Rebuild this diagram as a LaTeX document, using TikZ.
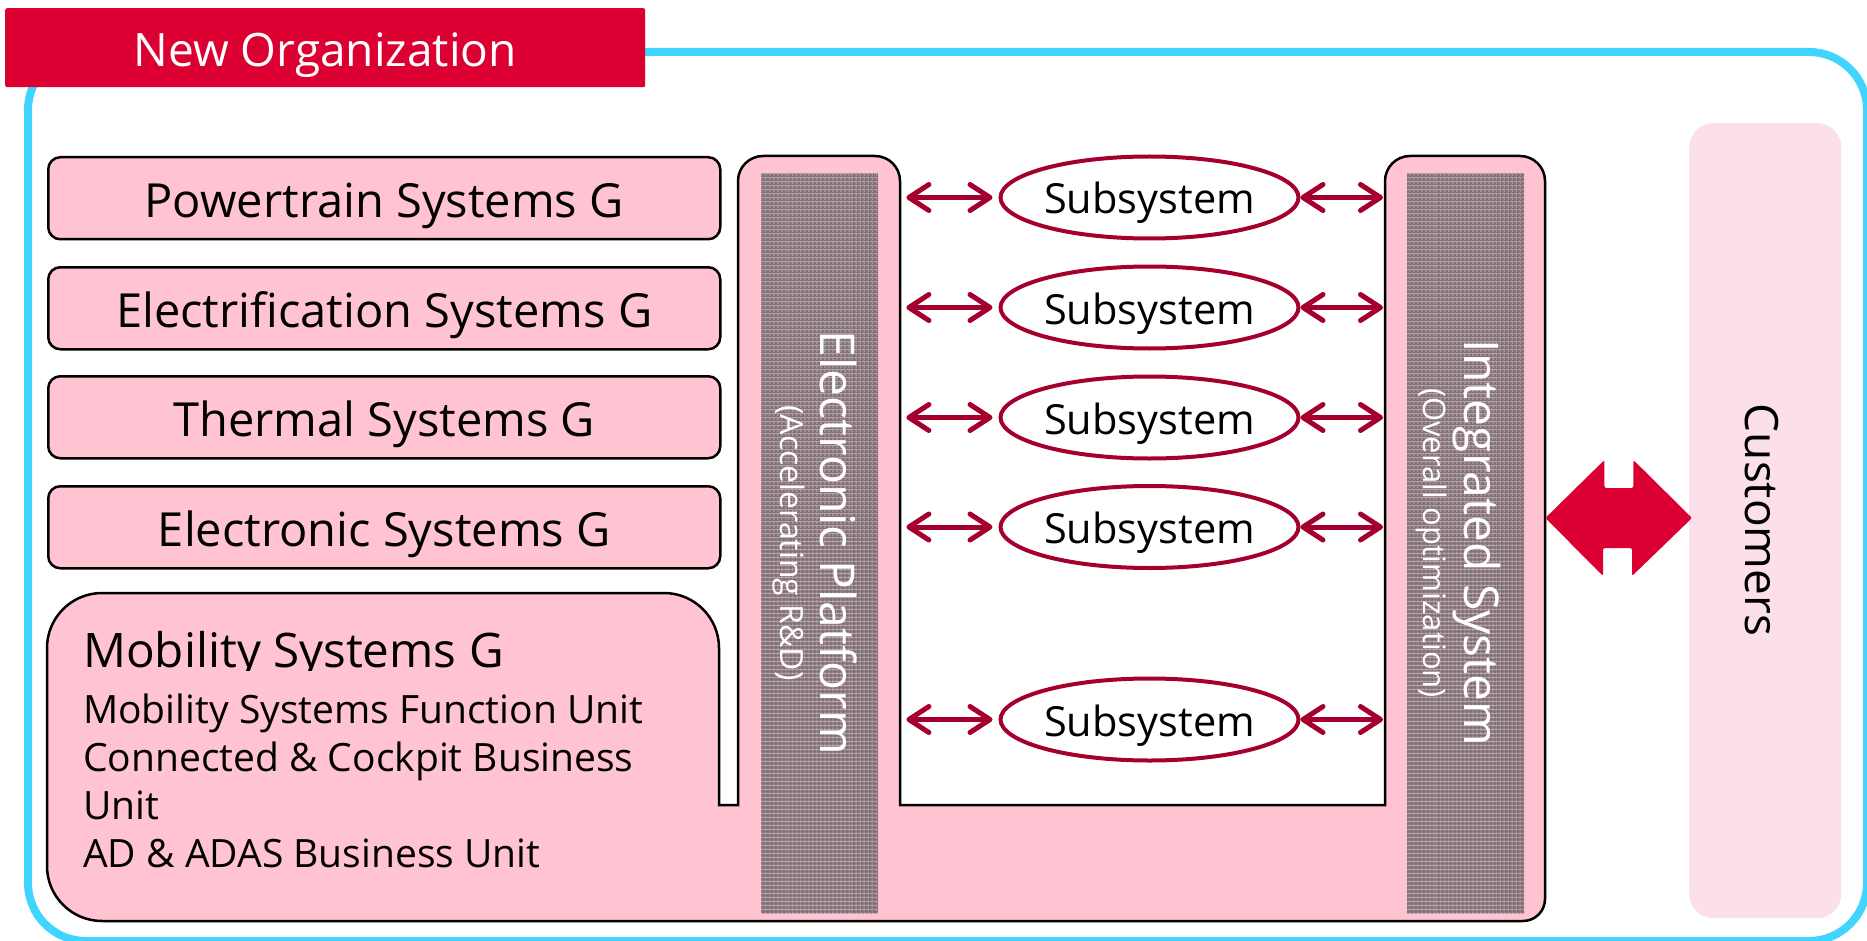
\documentclass[tikz,border=0pt]{standalone}
\usepackage{fontspec}
\setmainfont{Open Sans}
\usetikzlibrary{arrows.meta,shapes.geometric,calc,patterns.meta}
\definecolor{pinkc}{RGB}{255,195,210}
\definecolor{custpink}{RGB}{251,223,234}
\definecolor{dred}{RGB}{165,0,45}
\definecolor{tred}{RGB}{220,0,50}
\definecolor{cyanc}{RGB}{64,212,255}
\definecolor{grayc}{RGB}{128,114,119}
\definecolor{gridc}{RGB}{190,160,170}
\begin{document}
\begin{tikzpicture}[x=1pt,y=-1pt,
  sysbox/.style={draw=black,line width=2.5pt,fill=pinkc,rounded corners=12pt,
    minimum width=672pt,minimum height=82pt,inner sep=0pt,anchor=north west,
    text height=40pt,text depth=2pt,font=\fontsize{47}{56}\selectfont},
  subsys/.style={ellipse,draw=dred,line width=4pt,fill=white,minimum width=294pt,
    minimum height=82pt,inner sep=0pt,text height=35pt,text depth=2pt,
    font=\fontsize{41.5}{48}\selectfont},
  link/.style={draw=dred,line width=5pt,>={Straight Barb[round,length=20pt,width=26pt]},<->},
  vtext/.style={rotate=-90,anchor=base,text=white,inner sep=0pt},
  mobtext/.style={anchor=base west,inner sep=0pt,font=\fontsize{39}{48}\selectfont},
  column/.style={inner sep=0pt,minimum height=765pt,anchor=north west},
  graycol/.style={fill=grayc},
  gridlines/.style={pattern={Lines[angle=0,distance=4pt,line width=0.9pt]},pattern color=gridc}
]
\useasboundingbox (0,0) rectangle (1867,941);

% outer frame
\node[draw=cyanc,line width=8pt,rounded corners=58pt,minimum width=1839pt,
  minimum height=889pt,anchor=north west,inner sep=0pt] (frame) at (24,48) {};

% title
\node[fill=tred,rounded corners=2pt,minimum width=640pt,minimum height=79pt,
  anchor=north west,inner sep=0pt,text=white,text height=39pt,text depth=2pt,
  font=\fontsize{46}{50}\selectfont] (title) at (5,8) {New Organization};

% left group boxes
\node[sysbox] (pt) at (47,156) {Powertrain Systems G};
\node[sysbox] (el) at (47,266) {Electrification Systems G};
\node[sysbox] (th) at (47,375) {Thermal Systems G};
\node[sysbox] (es) at (47,485) {Electronic Systems G};

% combined shape: mobility + platform columns
\draw[black,line width=2.5pt,fill=pinkc]
  (300,921) [rounded corners=55pt] -- (47,921) -- (47,593) -- (719,593)
  [sharp corners] -- (719,805) -- (738,805)
  [rounded corners=25pt] -- (738,156) -- (900,156)
  [sharp corners] -- (900,805) -- (1385,805)
  [rounded corners=25pt] -- (1385,156) -- (1545,156)
  [rounded corners=22pt] -- (1545,921) -- cycle;

\foreach \gx in {761,1407}{
  \fill[graycol] (\gx,173) rectangle ++(117,740);
  \fill[gridlines] (\gx,173) rectangle ++(117,740);
  \fill[gridlines,pattern={Lines[angle=90,distance=4pt,line width=0.9pt]}] (\gx,173) rectangle ++(117,740);
}

\node[column,minimum width=162pt] (ep) at (738,156) {};
\node[column,minimum width=160pt] (is) at (1385,156) {};

\node[vtext,font=\fontsize{48}{50}\selectfont] (eptitle) at (820,543) {Electronic Platform};
\node[vtext,font=\fontsize{32}{34}\selectfont] (epsub) at (780,543) {(Accelerating R\&D)};
\node[vtext,font=\fontsize{48}{50}\selectfont] (istitle) at (1464,543) {Integrated System};
\node[vtext,font=\fontsize{31}{34}\selectfont] (issub) at (1423,543) {(Overall optimization)};

% mobility texts
\begin{scope}
  \clip (60,600) rectangle (700,670);
  \node[anchor=base west,inner sep=0pt,font=\fontsize{47.6}{50}\selectfont] (mobg) at (83,667) {Mobility Systems G};
\end{scope}
\node[mobtext] (mob1) at (83,723) {Mobility Systems Function Unit};
\node[mobtext] (mob2) at (83,771) {Connected \& Cockpit Business};
\node[mobtext] (mob3) at (83,819) {Unit};
\node[mobtext] (mob4) at (83,867) {AD \& ADAS Business Unit};

% subsystems
\node[subsys] (s1) at (1149.5,197.5) {Subsystem};
\node[subsys] (s2) at (1149.5,307.5) {Subsystem};
\node[subsys] (s3) at (1149.5,417.5) {Subsystem};
\node[subsys] (s4) at (1149.5,527) {Subsystem};
\node[subsys] (s5) at (1149.5,719.5) {Subsystem};

\foreach \s in {s1,s2,s3,s4,s5}{
  \draw[link,shorten <=6pt,shorten >=6pt] (ep.east |- \s.west) -- (\s.west);
  \draw[link,shorten >=2pt] (\s.east) -- (is.west |- \s.east);
}

% customers
\node[fill=custpink,rounded corners=24pt,minimum width=152pt,minimum height=795pt,
  anchor=north west,inner sep=0pt] (cust) at (1689,123) {};
\node[rotate=-90,anchor=base,inner sep=0pt,font=\fontsize{46}{50}\selectfont] (custtext) at (1745,520) {Customers};

% big double arrow between integrated system and customers
\coordinate (bl) at (is.east |- 0,518);
\coordinate (br) at (1692,518);
\fill[tred,rounded corners=2pt] (bl) -- ++(59,-58) -- ++(0,28) -- ++(29,0) -- ++(0,-28)
  -- (br) -- ++(-60,58) -- ++(0,-28) -- ++(-29,0) -- ++(0,28) -- cycle;
\end{tikzpicture}
\end{document}
